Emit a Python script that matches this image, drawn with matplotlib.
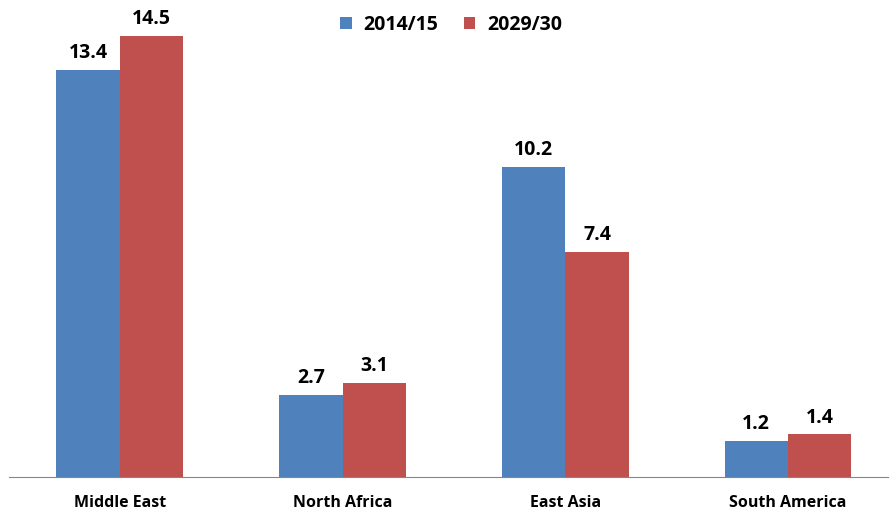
import numpy as np
import matplotlib.pyplot as plt

regions = ['Middle East', 'North Africa', 'East Asia', 'South America']
vals_2014 = [13.4, 2.7, 10.2, 1.2]
vals_2029 = [14.5, 3.1, 7.4, 1.4]
series_names = ['2014/15', '2029/30']

plt.rcParams['font.family'] = ['Open Sans', 'DejaVu Sans']

fig = plt.figure(figsize=(8.9, 5.12), dpi=100)
ax = fig.add_axes([9/890, 35/512, 879/890, 471/512])

x = np.arange(len(regions))
w = 0.285
b1 = ax.bar(x - w/2, vals_2014, w, color='#4F81BD', label=series_names[0])
b2 = ax.bar(x + w/2, vals_2029, w, color='#C0504D', label=series_names[1])

for bars in (b1, b2):
	for rect in bars:
		ax.annotate('{:.1f}'.format(rect.get_height()),
			(rect.get_x() + rect.get_width()/2, rect.get_height()),
			xytext=(0, 5), textcoords='offset points', ha='center', va='bottom',
			fontsize=14, fontweight='bold')

ax.set_xlim(-0.498, 3.449)
ax.set_ylim(0, 15.5)
ax.set_xticks(x)
ax.set_xticklabels(regions, fontsize=11.5, fontweight='bold')
ax.tick_params(axis='x', length=0, pad=13)
ax.set_yticks([])
for s in ('left', 'right', 'top'):
	ax.spines[s].set_visible(False)
ax.spines['bottom'].set_color('#868686')

fig.legend(loc='upper center', bbox_to_anchor=(0.507, 1.005), ncol=2, frameon=False,
	prop={'size': 14, 'weight': 'bold'}, handlelength=0.6, handleheight=0.6,
	columnspacing=1.3, handletextpad=0.6)

plt.savefig('out.png')
